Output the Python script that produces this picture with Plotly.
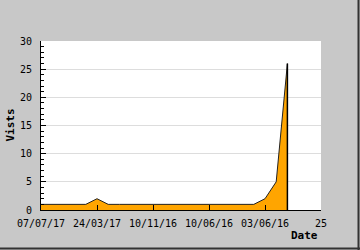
import plotly.graph_objects as go

idx = list(range(23))
visits = [1, 1, 1, 1, 1, 2, 1, 1, 1, 1, 1, 1, 1, 1, 1, 1, 1, 1, 1, 1, 2, 5, 26]
tick_vals = [0, 5, 10, 15, 20, 25]
tick_text = ["07/07/17", "24/03/17", "10/11/16", "10/06/16", "03/06/16", "25"]

W, H = 360, 250
L, R, T, B = 41, 39, 41, 40
pw, ph = W - L - R, H - T - B

font = dict(family="DejaVu Sans Mono, Liberation Mono, monospace", size=10, color="#000")

fig = go.Figure()
fig.add_trace(go.Scatter(x=idx, y=visits, mode="lines", fill="tozeroy",
                         fillcolor="#FFA500", line=dict(color="#222", width=1),
                         hoverinfo="skip"))
fig.add_trace(go.Scatter(x=[idx[-1], idx[-1]], y=[visits[-1], 0], mode="lines",
                         line=dict(color="#000", width=1.5), hoverinfo="skip"))

fig.update_layout(
    width=W, height=H, margin=dict(l=L, r=R, t=T, b=B),
    paper_bgcolor="#c8c8c8", plot_bgcolor="#ffffff",
    showlegend=False, font=font,
    xaxis=dict(range=[0, 25], tickvals=tick_vals, ticktext=tick_text,
               ticks="inside", ticklen=5, tickcolor="#000", showgrid=False,
               showline=True, linecolor="#000", linewidth=1, zeroline=False,
               ticklabelstandoff=4, fixedrange=True),
    yaxis=dict(range=[0, 30], dtick=5, ticks="inside", ticklen=5, tickcolor="#000",
               showgrid=True, gridcolor="#dddddd", gridwidth=1,
               showline=True, linecolor="#000", linewidth=1, zeroline=False,
               minor=dict(dtick=1, ticks="inside", ticklen=3, tickcolor="#000", showgrid=False),
               ticklabelstandoff=6, fixedrange=True),
    annotations=[
        dict(text="<b>Date</b>", xref="paper", yref="paper",
             x=(320 - L) / pw, y=(H - B - 236) / ph, xanchor="right", yanchor="middle",
             showarrow=False, font=dict(font, size=11)),
        dict(text="<b>Vists</b>", xref="paper", yref="paper", textangle=-90,
             x=(10 - L) / pw, y=0.5, xanchor="center", yanchor="middle",
             showarrow=False, font=dict(font, size=11)),
    ],
    shapes=[
        dict(type="line", xref="paper", yref="paper",
             x0=(358.5 - L) / pw, x1=(358.5 - L) / pw, y0=(H - B - 0) / ph, y1=(H - B - 250) / ph,
             line=dict(color="#333", width=2)),
        dict(type="line", xref="paper", yref="paper",
             x0=(0 - L) / pw, x1=(360 - L) / pw, y0=(H - B - 248.5) / ph, y1=(H - B - 248.5) / ph,
             line=dict(color="#333", width=2)),
    ],
)
fig.write_html("out.html", config={"displayModeBar": False})
